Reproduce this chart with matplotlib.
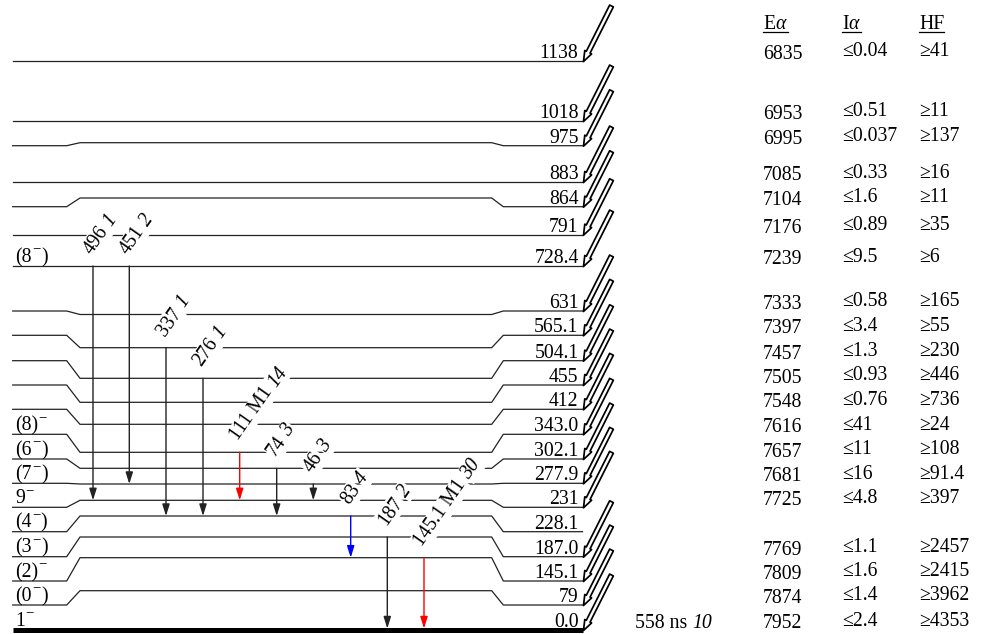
import math
import matplotlib
matplotlib.use("Agg")
import matplotlib.pyplot as plt
from matplotlib.patches import FancyArrowPatch

plt.rcParams['font.family'] = ['Liberation Serif', 'DejaVu Serif']
plt.rcParams['mathtext.fontset'] = 'custom'
plt.rcParams['mathtext.rm'] = 'Liberation Serif'
plt.rcParams['mathtext.it'] = 'Liberation Serif:italic'

# ---------------- data ----------------
level_energy = ['1138', '1018', '975', '883', '864', '791', '728.4', '631', '565.1',
                '504.1', '455', '412', '343.0', '302.1', '277.9', '231', '228.1',
                '187.0', '145.1', '79', '0.0']
# spin labels as (before superscript, after superscript)
level_spin = [None, None, None, None, None, None, ('(8', ')'), None, None, None, None, None,
              ('(8)', ''), ('(6', ')'), ('(7', ')'), ('9', ''), ('(4', ')'), ('(3', ')'),
              ('(2)', ''), ('(0', ')'), ('1', '')]
alpha_E = ['6835', '6953', '6995', '7085', '7104', '7176', '7239', '7333', '7397',
           '7457', '7505', '7548', '7616', '7657', '7681', '7725', None,
           '7769', '7809', '7874', '7952']
alpha_I = ['0.04', '0.51', '0.037', '0.33', '1.6', '0.89', '9.5', '0.58', '3.4',
           '1.3', '0.93', '0.76', '41', '11', '16', '4.8', None,
           '1.1', '1.6', '1.4', '2.4']
alpha_HF = ['41', '11', '137', '16', '11', '35', '6', '165', '55', '230', '446',
            '736', '24', '108', '91.4', '397', None, '2457', '2415', '3962', '4353']

gam_E = ['496', '451', '337', '276', '111', '74', '46', '83', '187', '145.1']
gam_I = ['1', '2', '1', '1', '14', '3', '3', '4', '2', '30']
gam_mult = ['', '', '', '', 'M1', '', '', '', '', 'M1']
gam_from = ['728.4', '728.4', '565.1', '504.1', '343.0', '302.1', '277.9', '228.1', '187.0', '145.1']
gam_to = ['231', '277.9', '228.1', '228.1', '231', '228.1', '231', '145.1', '0.0', '0.0']

halflife = '558 ns'
halflife_I = '10'

# ---------------- layout (diagram units = pixels) ----------------
y_left = [61, 121, 145.7, 182, 206.7, 234.7, 266, 311, 335.3, 360.7, 385, 409.3,
          434.3, 459, 483.3, 507.3, 531.7, 556.7, 581, 605, 630]
y_mid = [61, 121, 142.7, 182, 198, 234.7, 266, 314.5, 347.7, 378.3, 402.3, 424.3,
         452.3, 468.3, 484, 500.3, 516, 537, 557.7, 590.7, 630]
y_right = y_left
gam_x = [93, 129.3, 166, 203, 239.7, 276.7, 313.3, 350.7, 387.3, 424]
gam_color = ['#222222', '#222222', '#222222', '#222222', '#ff0000', '#222222',
             '#222222', '#0000ff', '#222222', '#ff0000']

X0, XK1, XK2, XK3, XK4, X1 = 12.7, 66.7, 80, 491.7, 503.3, 582.5
FS = 14.2
ANG = 55

fig = plt.figure(figsize=(9.87, 6.34), dpi=100)
ax = fig.add_axes([0, 0, 1, 1])
ax.set_xlim(0, 987)
ax.set_ylim(634, 0)
ax.axis('off')
R = fig.canvas.get_renderer()


def width(s, fs=FS, style='normal'):
    t = ax.text(0, 0, s, fontsize=fs, style=style)
    w = t.get_window_extent(renderer=R).width
    t.remove()
    return w


SPACE = width('a a') - width('aa')
idx = {e: i for i, e in enumerate(level_energy)}

# levels
for i, e in enumerate(level_energy):
    yl, ym, yr = y_left[i], y_mid[i], y_right[i]
    if e == '0.0':
        ax.plot([X0, X1], [yl, yr], color='black', lw=3.6, solid_capstyle='butt', zorder=2)
    else:
        ax.plot([X0, XK1, XK2, XK3, XK4, X1], [yl, yl, ym, ym, yr, yr],
                color='#222222', lw=0.9, zorder=2)
    ax.text(578.5, yr - 3, e, ha='right', va='baseline', fontsize=FS, zorder=4)
    sp = level_spin[i]
    if sp is not None:
        xs, ys = 15.5, yl - 4
        ax.text(xs, ys, sp[0], ha='left', va='baseline', fontsize=FS, zorder=4)
        xs += width(sp[0])
        ax.text(xs, ys - 9.5, '\u2212', ha='left', va='baseline', fontsize=FS * 0.75, zorder=4)
        xs += width('\u2212', FS * 0.75) + 0.5
        if sp[1]:
            ax.text(xs, ys, sp[1], ha='left', va='baseline', fontsize=FS, zorder=4)
    if alpha_E[i] is not None:
        arr = FancyArrowPatch((611.5, yr - 55), (583.5, yr + 0.5),
                              arrowstyle='simple,head_length=0.75,head_width=0.55,tail_width=0.3',
                              mutation_scale=10, fc='white', ec='black', lw=1.25,
                              shrinkA=0, shrinkB=0, zorder=5 + i * 0.01)
        ax.add_patch(arr)
        ax.text(763, yr - 2, alpha_E[i], ha='left', va='baseline', fontsize=FS)
        ax.text(842, yr - 4.5, '\u2264' + alpha_I[i], ha='left', va='baseline', fontsize=FS)
        ax.text(919, yr - 4.5, '\u2265' + alpha_HF[i], ha='left', va='baseline', fontsize=FS)

# gamma transitions
ca, sa = math.cos(math.radians(ANG)), math.sin(math.radians(ANG))
for k in range(len(gam_E)):
    i0, i1 = idx[gam_from[k]], idx[gam_to[k]]
    x = gam_x[k]
    y0, y1 = y_mid[i0], y_mid[i1]
    if gam_to[k] == '0.0':
        y1 -= 1.5
    a = FancyArrowPatch((x, y0), (x, y1), arrowstyle='-|>,head_length=0.7,head_width=0.22',
                        mutation_scale=10, color=gam_color[k], lw=1.0,
                        shrinkA=0, shrinkB=0, zorder=3)
    ax.add_patch(a)
    first = gam_E[k] + (' ' + gam_mult[k] if gam_mult[k] else '')
    ax0, ay0 = x - 1.5, y0 - 11
    bb = dict(boxstyle='square,pad=0.06', fc='white', ec='none')
    ax.text(ax0, ay0, first, rotation=ANG, rotation_mode='anchor', ha='left',
            va='baseline', fontsize=FS, zorder=4, bbox=bb)
    d = width(first) + SPACE
    ax.text(ax0 + d * ca, ay0 - d * sa, gam_I[k], rotation=ANG, rotation_mode='anchor',
            ha='left', va='baseline', fontsize=FS, style='italic', zorder=4, bbox=bb)

# half-life
ax.text(635, 628, halflife, ha='left', va='baseline', fontsize=FS)
ax.text(635 + width(halflife) + SPACE, 628, halflife_I, ha='left', va='baseline',
        fontsize=FS, style='italic')

# table headers
headers = [(763, r'E$\alpha$'), (842, r'I$\alpha$'), (919, 'HF')]
htexts = [ax.text(x, 29, h, ha='left', va='baseline', fontsize=FS) for x, h in headers]
fig.canvas.draw()
inv = ax.transData.inverted()
for t in htexts:
    b = t.get_window_extent(renderer=R)
    (xa, _), (xb, _) = inv.transform([(b.x0, b.y0), (b.x1, b.y0)])
    ax.plot([xa, xb], [32.3, 32.3], color='black', lw=0.9)

fig.savefig('out.png', dpi=100)
